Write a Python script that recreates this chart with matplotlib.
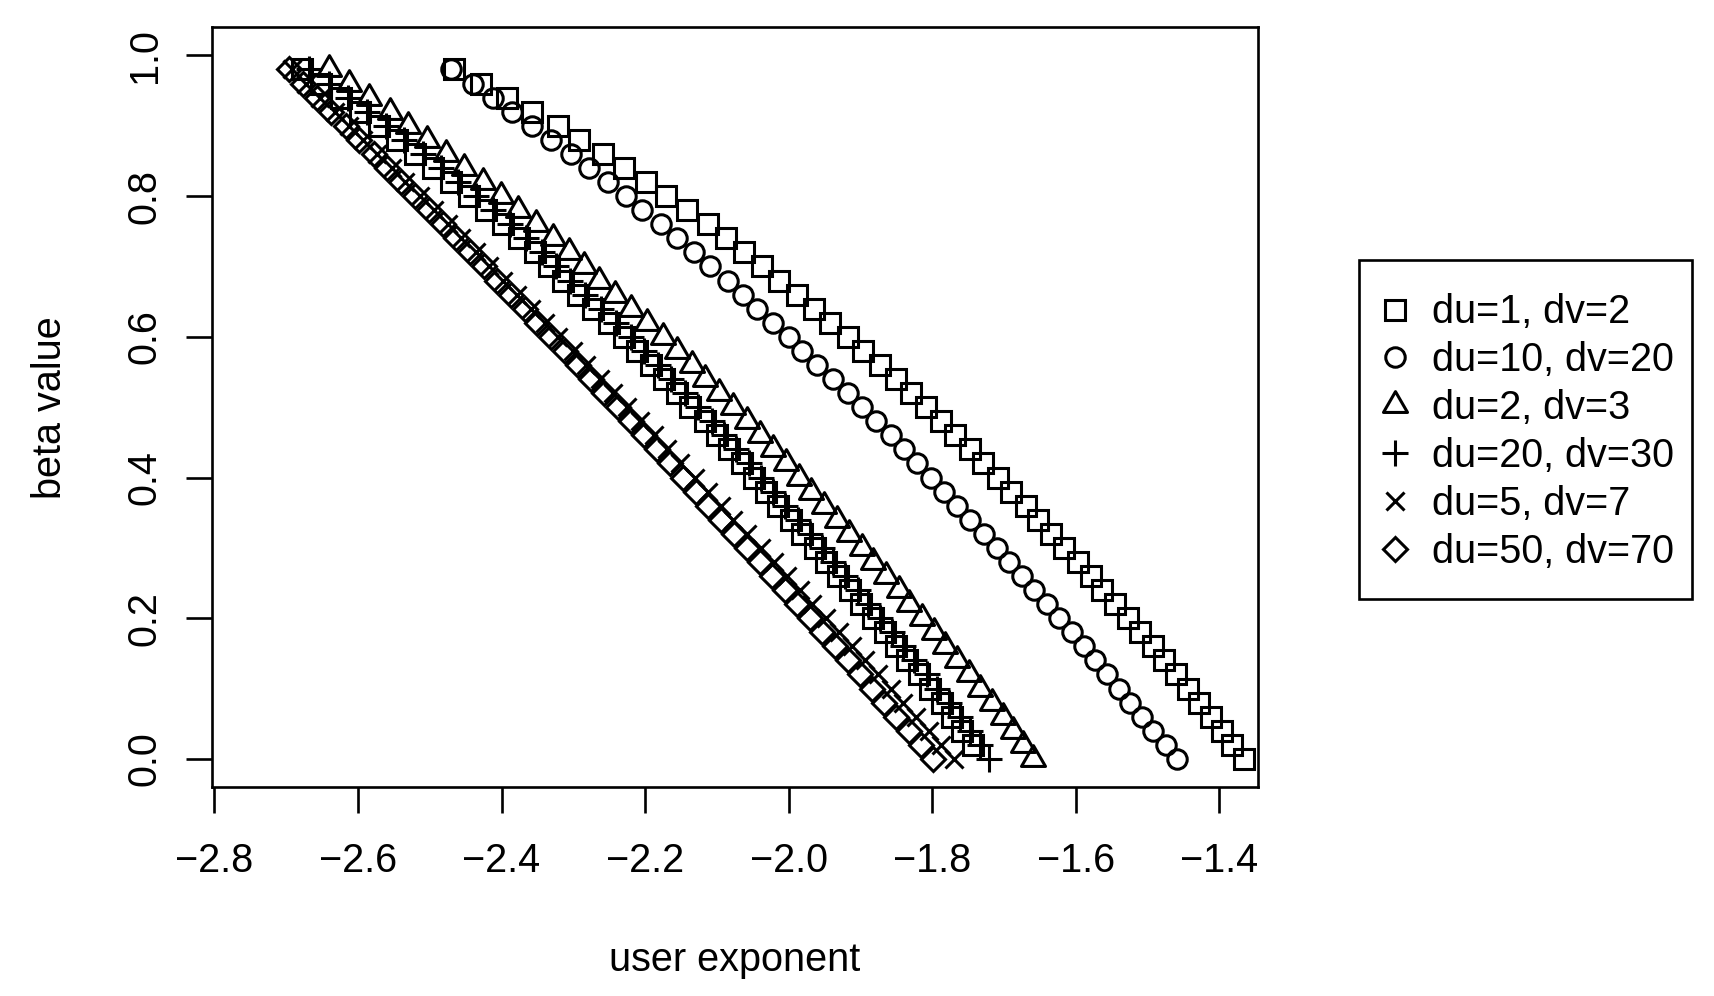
import matplotlib
matplotlib.use("Agg")
import matplotlib.pyplot as plt
from matplotlib.path import Path
from matplotlib.patches import Rectangle

plt.rcParams["font.family"] = ["Liberation Sans", "DejaVu Sans"]

# beta values, shared by every series (0.00 .. 0.98)
beta = [i / 50 for i in range(50)]

# user exponent, one list per series (beta ascending)
x_du1_dv2 = [-1.366, -1.382, -1.396, -1.412, -1.428, -1.444, -1.460, -1.477, -1.493, -1.511,
             -1.528, -1.546, -1.563, -1.579, -1.597, -1.616, -1.634, -1.653, -1.670, -1.690,
             -1.709, -1.730, -1.748, -1.769, -1.788, -1.809, -1.830, -1.851, -1.873, -1.896,
             -1.918, -1.942, -1.965, -1.989, -2.013, -2.037, -2.062, -2.088, -2.113, -2.141,
             -2.171, -2.199, -2.229, -2.259, -2.292, -2.322, -2.357, -2.392, -2.429, -2.466]
x_du10_dv20 = [-1.459, -1.475, -1.492, -1.508, -1.524, -1.540, -1.556, -1.573, -1.589, -1.605,
               -1.624, -1.640, -1.659, -1.675, -1.693, -1.710, -1.728, -1.747, -1.765, -1.784,
               -1.802, -1.821, -1.840, -1.858, -1.879, -1.898, -1.917, -1.939, -1.960, -1.981,
               -2.000, -2.022, -2.044, -2.064, -2.085, -2.109, -2.132, -2.155, -2.178, -2.204,
               -2.227, -2.252, -2.278, -2.303, -2.331, -2.357, -2.385, -2.412, -2.440, -2.471]
x_du2_dv3 = [-1.660, -1.673, -1.687, -1.702, -1.717, -1.733, -1.749, -1.766, -1.782, -1.798,
             -1.815, -1.832, -1.847, -1.865, -1.882, -1.898, -1.916, -1.933, -1.951, -1.969,
             -1.986, -2.004, -2.022, -2.040, -2.058, -2.078, -2.097, -2.116, -2.135, -2.155,
             -2.175, -2.197, -2.219, -2.242, -2.264, -2.285, -2.306, -2.329, -2.352, -2.377,
             -2.401, -2.426, -2.452, -2.477, -2.504, -2.530, -2.556, -2.584, -2.612, -2.640]
x_du20_dv30 = [-1.721, -1.734, -1.748, -1.762, -1.777, -1.793, -1.808, -1.825, -1.841, -1.856,
               -1.873, -1.890, -1.904, -1.922, -1.938, -1.954, -1.971, -1.987, -2.005, -2.022,
               -2.038, -2.055, -2.073, -2.090, -2.107, -2.127, -2.145, -2.164, -2.182, -2.201,
               -2.220, -2.241, -2.262, -2.284, -2.304, -2.324, -2.344, -2.366, -2.388, -2.412,
               -2.436, -2.460, -2.485, -2.510, -2.536, -2.561, -2.587, -2.614, -2.641, -2.668]
x_du5_dv7 = [-1.770, -1.788, -1.805, -1.823, -1.841, -1.858, -1.876, -1.894, -1.912, -1.930,
             -1.948, -1.967, -1.984, -2.003, -2.021, -2.039, -2.058, -2.077, -2.095, -2.113,
             -2.131, -2.151, -2.170, -2.188, -2.207, -2.225, -2.245, -2.263, -2.283, -2.301,
             -2.321, -2.340, -2.359, -2.378, -2.398, -2.417, -2.436, -2.456, -2.475, -2.494,
             -2.514, -2.534, -2.553, -2.573, -2.593, -2.612, -2.632, -2.653, -2.672, -2.692]
x_du50_dv70 = [-1.799, -1.816, -1.833, -1.850, -1.867, -1.884, -1.901, -1.918, -1.935, -1.953,
               -1.970, -1.988, -2.005, -2.023, -2.040, -2.058, -2.076, -2.094, -2.112, -2.129,
               -2.147, -2.166, -2.184, -2.202, -2.220, -2.238, -2.257, -2.275, -2.294, -2.312,
               -2.331, -2.350, -2.368, -2.387, -2.406, -2.425, -2.444, -2.463, -2.482, -2.501,
               -2.520, -2.540, -2.559, -2.578, -2.598, -2.617, -2.637, -2.657, -2.676, -2.696]
# extra square series in the middle band (no legend entry), starts at beta=0.02
x_extra = [-1.744, -1.758, -1.772, -1.787, -1.803, -1.818, -1.835, -1.851, -1.866,
           -1.883, -1.900, -1.914, -1.932, -1.948, -1.964, -1.981, -1.997, -2.015, -2.032,
           -2.048, -2.065, -2.083, -2.100, -2.117, -2.137, -2.155, -2.174, -2.192, -2.211,
           -2.230, -2.251, -2.272, -2.294, -2.314, -2.334, -2.354, -2.376, -2.398, -2.422,
           -2.446, -2.470, -2.495, -2.520, -2.546, -2.571, -2.597, -2.624, -2.651, -2.678]

labels = ["du=1, dv=2", "du=10, dv=20", "du=2, dv=3",
          "du=20, dv=30", "du=5, dv=7", "du=50, dv=70"]

xticks = [-2.8, -2.6, -2.4, -2.2, -2.0, -1.8, -1.6, -1.4]
yticks = [0.0, 0.2, 0.4, 0.6, 0.8, 1.0]

# R style open triangle (centroid at the point)
tri = Path([(0, 1.5551), (1.3468, -0.7776), (-1.3468, -0.7776), (0, 1.5551)], closed=True)

styles = [
    dict(marker="s", markersize=14.3),
    dict(marker="o", markersize=14.0),
    dict(marker=tri, markersize=20.0),
    dict(marker="+", markersize=18.5),
    dict(marker="x", markersize=13.5),
    dict(marker="D", markersize=12.2),
]
series = [x_du1_dv2, x_du10_dv20, x_du2_dv3, x_du20_dv30, x_du5_dv7, x_du50_dv70]
mew = 2.2

fig = plt.figure(figsize=(17.14, 9.96), dpi=100)
ax = fig.add_axes([0.1234, 0.2098, 0.6107, 0.7628])

handles = []
for xs, st, lab in zip(series, styles, labels):
    h, = ax.plot(xs, beta, linestyle="none", color="black", markerfacecolor="none",
                 markeredgewidth=mew, label=lab, **st)
    handles.append(h)
ax.plot(x_extra, beta[1:], linestyle="none", color="black", markerfacecolor="none",
        markeredgewidth=mew, marker="s", markersize=14.3)

ax.set_xlim(-2.804, -1.346)
ax.set_ylim(-0.04, 1.04)
ax.set_xticks(xticks)
ax.set_xticklabels([f"{v:.1f}".replace("-", "\u2212") for v in xticks])
ax.set_yticks(yticks)
ax.set_yticklabels([f"{v:.1f}" for v in yticks], rotation=90, va="center")

for s in ax.spines.values():
    s.set_linewidth(1.9)
ax.tick_params(axis="both", direction="out", length=18.5, width=1.9, labelsize=28.5)
ax.tick_params(axis="x", pad=21)
ax.tick_params(axis="y", pad=16)

ax.set_xlabel("user exponent", fontsize=28.5)
ax.xaxis.set_label_coords(0.5, -0.203)
ax.set_ylabel("beta value", fontsize=28.5)
ax.yaxis.set_label_coords(-0.136, 0.5)

# legend box (R style: square frame, wider vertical padding)
box_l, box_t, box_r, box_b = 1358.7 / 1714, 1 - 260.2 / 996, 1692 / 1714, 1 - 599 / 996
fig.patches.append(Rectangle((box_l, box_b), box_r - box_l, box_t - box_b,
                             transform=fig.transFigure, fill=False,
                             edgecolor="black", linewidth=1.9))
ax.legend(handles=handles, loc="upper left", bbox_to_anchor=(box_l, box_t),
          bbox_transform=fig.transFigure, fontsize=28.5, frameon=False,
          borderpad=0.84, labelspacing=0.25, handlelength=0.15, handletextpad=0.87,
          borderaxespad=0, numpoints=1)

fig.savefig("out.png", dpi=100)
